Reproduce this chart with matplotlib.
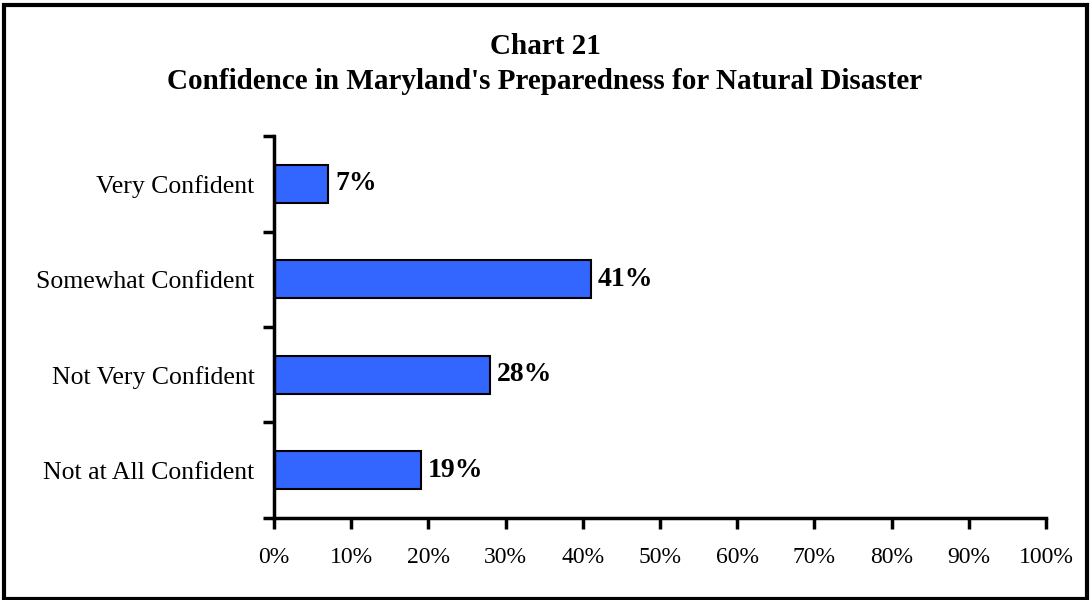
"""
Chart 21 - Confidence in Maryland's Preparedness for Natural Disaster
"""

import matplotlib.pyplot as plt
from matplotlib.patches import Rectangle

plt.rcParams['font.family'] = ['Liberation Serif', 'DejaVu Serif']

# Datos
categorias = ['Very Confident', 'Somewhat Confident', 'Not Very Confident',
              'Not at All Confident']
valores = [7, 41, 28, 19]
ticks_x = [0, 10, 20, 30, 40, 50, 60, 70, 80, 90, 100]
titulo = "Chart 21\nConfidence in Maryland's Preparedness for Natural Disaster"

color_barra = '#3366FF'

fig = plt.figure(figsize=(10.9, 6), dpi=100)
ax = fig.add_axes([0.2514, 0.1367, 0.7082, 0.6366])

pos = list(range(len(categorias)))[::-1]
barras = ax.barh(pos, valores, height=0.4, color=color_barra,
                 edgecolor='black', linewidth=1.5)

for b, v in zip(barras, valores):
    ax.text(b.get_width() + 0.9, b.get_y() + b.get_height() / 2, f'{v}%',
            va='center', ha='left', fontsize=20, fontweight='bold')

ax.set_xlim(0, 100)
ax.set_ylim(-0.5, len(categorias) - 0.5)
ax.set_xticks(ticks_x)
ax.set_xticklabels([f'{t}%' for t in ticks_x], fontsize=17)

# ticks del eje y entre categorias
ax.set_yticks([p - 0.5 for p in range(len(categorias) + 1)])
ax.set_yticklabels([])
ax.set_yticks(pos, minor=True)
ax.set_yticklabels(categorias, minor=True, fontsize=18.5)
ax.tick_params(axis='y', which='minor', length=0, pad=14)
ax.tick_params(axis='y', which='major', direction='out', length=8, width=2.5)
ax.tick_params(axis='x', direction='out', length=8, width=2.5, pad=13)

for s in ['top', 'right']:
    ax.spines[s].set_visible(False)
for s in ['left', 'bottom']:
    ax.spines[s].set_linewidth(2.5)

fig.text(0.5, 0.893, titulo, ha='center', va='center', fontsize=21,
         fontweight='bold', linespacing=1.4)

# marco de la figura
fig.patches.append(Rectangle((0.004, 0.002), 0.993, 0.99, transform=fig.transFigure,
                             fill=False, edgecolor='black', linewidth=3))

fig.savefig('out.png', dpi=100)
